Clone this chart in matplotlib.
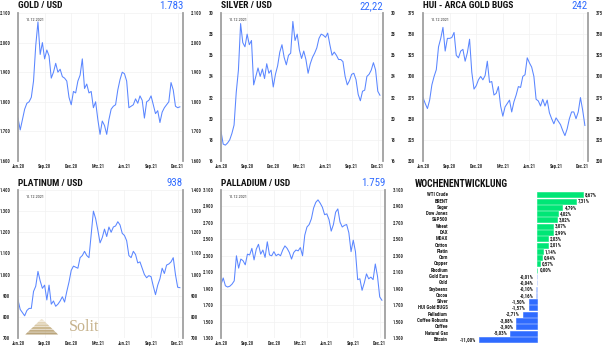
import numpy as np
import matplotlib
matplotlib.use("Agg")
import matplotlib.pyplot as plt
from matplotlib.ticker import FuncFormatter
from matplotlib.font_manager import fontManager, FontProperties
from matplotlib.patches import Polygon

# ---------------- data ----------------
months = ["Jun.20", "Sep.20", "Dec.20", "Mrz.21", "Jun.21", "Sep.21", "Dec.21"]
date_label = "10.12.2021"

gold = [1745, 1705, 1740, 1775, 1795, 1800, 1815, 1870, 1990, 2070,
        1960, 2000, 1945, 1975, 1955, 1880, 1900, 1930, 1900, 1910,
        1885, 1880, 1870, 1815, 1790, 1835, 1830, 1870, 1890, 1945,
        1845, 1860, 1830, 1835, 1780, 1800, 1740, 1690, 1735, 1720,
        1690, 1740, 1775, 1785, 1790, 1840, 1875, 1900, 1895, 1870,
        1780, 1785, 1790, 1810, 1795, 1820, 1805, 1745, 1800, 1805,
        1820, 1790, 1760, 1770, 1730, 1765, 1780, 1790, 1800, 1865,
        1840, 1785, 1780, 1783]

silver = [18.8, 17.6, 17.5, 17.7, 18.0, 18.6, 19.4, 22.5, 24.6, 29.0,
          27.2, 26.8, 28.0, 27.0, 27.4, 23.2, 24.0, 24.8, 24.0, 24.7,
          23.8, 25.2, 24.3, 24.6, 23.0, 24.2, 25.0, 26.3, 27.0, 25.8,
          25.1, 26.0, 26.2, 29.2, 27.4, 28.0, 26.5, 25.7, 26.4, 25.6,
          24.3, 25.2, 25.8, 26.2, 26.7, 27.6, 28.0, 27.9, 27.7, 28.1,
          27.0, 26.0, 26.3, 26.0, 25.6, 25.6, 25.4, 24.0, 23.2, 23.6,
          24.2, 24.3, 23.7, 22.3, 21.7, 22.6, 22.7, 24.0, 24.2, 24.6,
          25.3, 24.6, 22.6, 22.22]

hui = [275, 268, 262, 272, 290, 300, 308, 335, 345, 358,
       330, 345, 345, 346, 352, 325, 322, 330, 332, 318,
       328, 344, 305, 285, 289, 296, 300, 296, 301, 318,
       293, 294, 278, 280, 288, 265, 253, 264, 268, 272,
       258, 270, 278, 288, 287, 300, 302, 322, 316, 311,
       300, 273, 271, 265, 273, 265, 272, 257, 250, 244,
       251, 247, 243, 236, 230, 238, 250, 258, 258, 250,
       258, 275, 260, 242]

platinum = [880, 835, 820, 805, 830, 840, 840, 920, 945, 1015,
            970, 935, 950, 880, 950, 860, 875, 850, 860, 875,
            895, 870, 920, 965, 1020, 1040, 1035, 1030, 1080, 1090,
            1110, 1090, 1080, 1190, 1300, 1265, 1210, 1150, 1175, 1215,
            1180, 1225, 1200, 1225, 1230, 1250, 1235, 1195, 1185, 1160,
            1090, 1080, 1110, 1095, 1055, 1060, 1030, 1000, 985, 995,
            990, 945, 905, 950, 980, 1030, 1005, 1045, 1050, 1060,
            1080, 1000, 940, 938]

palladium = [1950, 2030, 1935, 1920, 1930, 1955, 1995, 2300, 2150, 2260,
             2240, 2190, 2320, 2310, 2390, 2250, 2380, 2440, 2320, 2370,
             2280, 2470, 2310, 2300, 2350, 2300, 2320, 2300, 2370, 2420,
             2390, 2340, 2260, 2340, 2370, 2360, 2400, 2300, 2550, 2650,
             2680, 2750, 2880, 2950, 2980, 2940, 2890, 2800, 2810, 2740,
             2600, 2680, 2830, 2870, 2710, 2650, 2670, 2680, 2580, 2350,
             2490, 2350, 2010, 2020, 1880, 1970, 2080, 2020, 2040, 2010,
             2200, 2050, 1800, 1759]

week_cats = ["WTI Crude", "BRENT", "Sugar", "Dow Jones", "S&P500", "Wheat", "DAX",
             "MDAX", "Cotton", "Platin", "Corn", "Copper", "Rhodium", "Gold Euro",
             "Gold", "Soybeans", "Cocoa", "Silver", "HUI Gold BUGS", "Palladium",
             "Coffee Robusta", "Coffee", "Natural Gas", "Bitcoin"]
week_vals = [8.67, 7.31, 4.79, 4.02, 3.82, 3.07, 2.99, 2.03, 2.01, 1.14, 0.94, 0.57,
             0.00, -0.01, -0.04, -0.10, -0.16, -1.50, -1.57, -2.71, -3.88, -3.90,
             -5.03, -11.00]

# ---------------- fonts ----------------
def _is_bold(f):
    w = f.weight
    if isinstance(w, str):
        return w.lower() in ('bold', 'heavy', 'black', 'extra bold', 'demibold', 'semibold')
    return w >= 600


def _is_narrow(f):
    n = f.name.lower()
    s = f.stretch
    if 'narrow' in n or 'condensed' in n:
        return True
    if isinstance(s, str):
        return 'condensed' in s
    return s < 500


def find_narrow(bold):
    prefs = ['liberation sans narrow', 'arial narrow', 'roboto condensed',
             'open sans condensed', 'dejavu sans', 'noto sans']
    best, best_rank = None, 99
    for f in fontManager.ttflist:
        if f.style != 'normal' or not _is_narrow(f) or _is_bold(f) != bold:
            continue
        if 'mono' in f.name.lower() or 'serif' in f.name.lower():
            continue
        rank = 50
        for i, p in enumerate(prefs):
            if f.name.lower().startswith(p):
                rank = i
                break
        if rank < best_rank:
            best, best_rank = f, rank
    return best


_fb = find_narrow(True)
_fr = find_narrow(False)


def fp(size, bold=False):
    f = _fb if bold else _fr
    if f is None:
        f = _fb or _fr
    if f is None:
        return FontProperties(family='DejaVu Sans', size=size * 0.8,
                              weight='bold' if bold else 'normal')
    return FontProperties(fname=f.fname, size=size)


names = {f.name for f in fontManager.ttflist}
SERIF = 'Liberation Serif' if 'Liberation Serif' in names else 'DejaVu Serif'
LINE = '#5a86ff'
BLUE = '#2f6bff'
SPINE = '#a0a0a0'
GRID = '#f1f1f1'

W, H = 605, 351
fig = plt.figure(figsize=(6.05, 3.51), dpi=100)


def px_axes(l, r, t, b, **kw):
    return fig.add_axes([l / W, 1 - b / H, (r - l) / W, (b - t) / H], **kw)


def thousands(v, p):
    return f"{int(round(v)):,}".replace(",", ".")


t = np.arange(len(gold)) * 0.25  # months since June 2020

specs = [
    ("GOLD / USD", "1.783", gold, 1600, 2100, 100, (18, 183, 13, 161)),
    ("SILVER / USD", "22,22", silver, 16, 30, 2, (221, 383, 13, 161)),
    ("HUI - ARCA GOLD BUGS", "242", hui, 200, 375, 25, (423, 588, 13, 161)),
    ("PLATINUM / USD", "938", platinum, 700, 1400, 100, (18, 183, 190, 338)),
    ("PALLADIUM / USD", "1.759", palladium, 1300, 3100, 200, (221, 385, 190, 338)),
]

tick_fp = fp(3.3, bold=True)
title_items = []
for title, value, data, lo, hi, step, (l, r, top, bot) in specs:
    ax = px_axes(l, r, top, bot)
    ax.patch.set_visible(False)
    ax.plot(t, data, color=LINE, lw=0.75)
    ax.set_xlim(0, 18.6)
    ax.set_ylim(lo, hi)
    ax.set_yticks(np.arange(lo, hi + step / 2, step))
    ax.yaxis.set_major_formatter(FuncFormatter(thousands))
    ax.set_xticks(np.arange(0, 19, 3))
    ax.set_xticklabels(months)
    ax.tick_params(axis='y', left=False, right=False, labelleft=True,
                   labelright=True, pad=2.0, labelcolor='#333333')
    ax.tick_params(axis='x', length=0, pad=2.0, labelcolor='#333333')
    for lab in (ax.get_xticklabels() + ax.yaxis.get_majorticklabels()
                + [tk.label2 for tk in ax.yaxis.get_major_ticks()]):
        lab.set_fontproperties(tick_fp)
    for s in ('top', 'bottom'):
        ax.spines[s].set_visible(False)
    for s in ('left', 'right'):
        ax.spines[s].set_color(SPINE)
        ax.spines[s].set_linewidth(1.3)
    ax.grid(True, color=GRID, lw=0.5)
    ax.set_axisbelow(True)
    ax.text(0.045, 0.965, date_label, transform=ax.transAxes, fontproperties=fp(3.0),
            color='#333333', va='top', ha='left')
    title_items.append((title, value, l, r, top))

# ---------------- weekly bar chart ----------------
zero_px, ppu = 537.0, 5.3
bx = px_axes(400, 600, 190.8, 342.5)
bx.patch.set_visible(False)
y = np.arange(len(week_cats))
colors = []
for v in week_vals:
    if v >= 0:
        colors.append('#00e676')
    elif v > -1:
        colors.append('#a9c2ff')
    else:
        colors.append(BLUE)
bx.barh(y, week_vals, height=0.8, color=colors, edgecolor=colors, linewidth=0.4)
bx.set_xlim((400 - zero_px) / ppu, (600 - zero_px) / ppu)
bx.set_ylim(len(week_cats) - 0.5, -0.5)
bx.set_xticks([])
bx.set_yticks(np.linspace(-0.63, 22.83, 10))
bx.set_yticklabels([])
bx.tick_params(axis='y', length=1.5, width=0.5, color='#888888', direction='in')
for s in bx.spines.values():
    s.set_visible(False)
lab_x = (448 - zero_px) / ppu
off = 2.0 / ppu
bar_fp = fp(3.6, bold=True)
for yi, (c, v) in enumerate(zip(week_cats, week_vals)):
    bx.text(lab_x, yi, c, ha='right', va='center', fontproperties=bar_fp, color='#222222')
    txt = f"{v:.2f}%".replace(".", ",")
    if v >= 0:
        bx.text(v + off + (1.0 / ppu if v == 0 else 0), yi, txt, ha='left', va='center',
                fontproperties=bar_fp, color='#222222')
    else:
        bx.text(v - 1.5 * off, yi, txt, ha='right', va='center',
                fontproperties=bar_fp, color='#222222')

# ---------------- overlay: titles, logo ----------------
ov = fig.add_axes([0, 0, 1, 1], zorder=10)
ov.set_xlim(0, W)
ov.set_ylim(H, 0)
ov.axis('off')
ov.patch.set_alpha(0)
for title, value, l, r, top in title_items:
    ov.text(l, top - 7, title, ha='left', va='center', fontproperties=fp(6.8, True),
            color='#111111')
    ov.text(r, top - 7, value, ha='right', va='center', fontproperties=fp(7.8),
            color=BLUE)
ov.text(415, 184, "WOCHENENTWICKLUNG", ha='left', va='center',
        fontproperties=fp(7.0, True), color='#111111')

# Solit logo (pyramid + wordmark)
apex_x, apex_y, base_y, half_w = 41.7, 319.0, 335.0, 16.5
layers = 6
shades = ['#efe6d3', '#e3d5b8', '#d8c7a4', '#ccb991', '#c2ad84', '#b9a47b']
for i in range(layers):
    y0 = apex_y + (base_y - apex_y) * i / layers
    y1 = apex_y + (base_y - apex_y) * (i + 0.82) / layers
    w0 = half_w * (i + 0.15) / layers
    w1 = half_w * (i + 0.97) / layers
    ov.add_patch(Polygon([(apex_x - w0, y0), (apex_x + w0, y0),
                          (apex_x + w1, y1), (apex_x - w1, y1)],
                         closed=True, facecolor=shades[i], edgecolor='none'))
ov.text(69, 327, "Solit", ha='left', va='center', fontsize=11.5, family=SERIF,
        color='#c6b28c')

fig.savefig("out.png", dpi=100)
